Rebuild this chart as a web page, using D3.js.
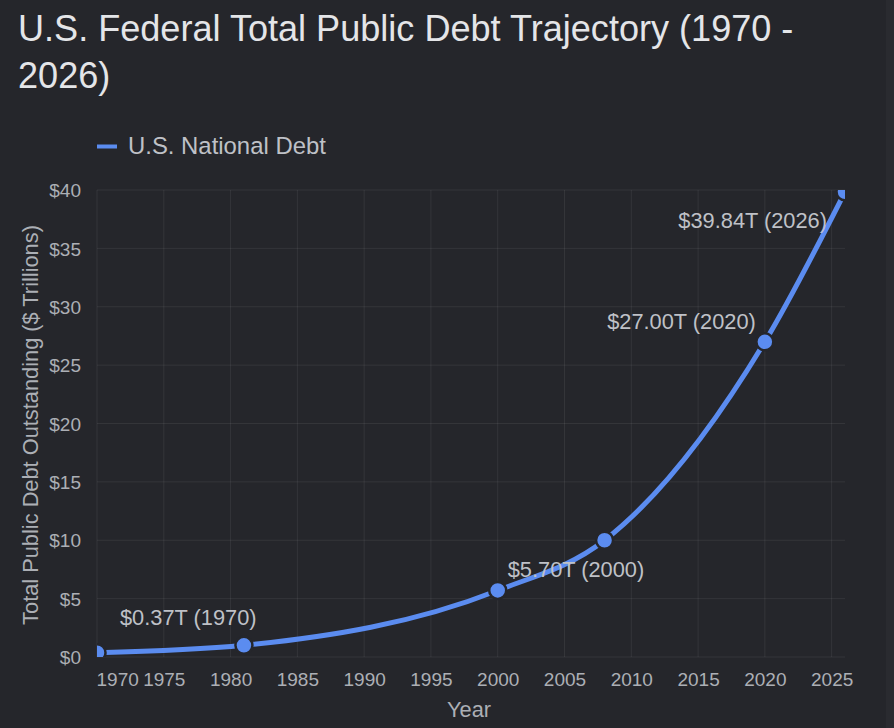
<!DOCTYPE html>
<html>
<head>
<meta charset="utf-8">
<script src="https://cdn.jsdelivr.net/npm/d3@7"></script>
<style>
  html, body { margin: 0; padding: 0; background: #25262b; }
  svg { display: block; font-family: "Liberation Sans", Arial, Helvetica, sans-serif; }
</style>
</head>
<body>
<svg id="myChart" width="894" height="728"></svg>
<script>
// data
const years = [1970, 1981, 2000, 2008, 2020, 2026];
const debt = [0.37, 1.0, 5.70, 10.0, 27.00, 39.84];
const labelledYears = [1970, 2000, 2020, 2026];
const xTicks = [1970, 1975, 1980, 1985, 1990, 1995, 2000, 2005, 2010, 2015, 2020, 2025];
const yTicks = [0, 5, 10, 15, 20, 25, 30, 35, 40];

const svg = d3.select("#myChart"),
    width = +svg.attr("width"),
    height = +svg.attr("height");

const margin = {top: 190, right: 49, bottom: 71, left: 97};
const lineColor = "#5b8cf0";
const bg = "#25262b";

svg.append("rect").attr("width", width).attr("height", height).attr("fill", bg);
svg.append("rect").attr("x", 886).attr("width", width - 886).attr("height", height).attr("fill", "#2a2b30");

const x = d3.scaleLinear().domain([1970, 2026]).range([margin.left, width - margin.right]);
const y = d3.scaleLinear().domain([0, 40]).range([height - margin.bottom, margin.top]);

// title
svg.append("text").attr("x", 18).attr("y", 41)
    .attr("fill", "#e4e5e8").attr("font-size", 36.1)
    .text("U.S. Federal Total Public Debt Trajectory (1970 -");
svg.append("text").attr("x", 18).attr("y", 88)
    .attr("fill", "#e4e5e8").attr("font-size", 36.1)
    .text("2026)");

// legend
svg.append("line").attr("x1", 97).attr("x2", 117).attr("y1", 146.5).attr("y2", 146.5)
    .attr("stroke", lineColor).attr("stroke-width", 4);
svg.append("text").attr("x", 128).attr("y", 154)
    .attr("fill", "#bfc1c7").attr("font-size", 23.9)
    .text("U.S. National Debt");

// grid
const grid = svg.append("g").attr("stroke", "#ffffff").attr("stroke-opacity", 0.07);
grid.selectAll(".gx").data(xTicks).enter().append("line")
    .attr("x1", d => x(d)).attr("x2", d => x(d))
    .attr("y1", y(40)).attr("y2", y(0));
grid.selectAll(".gy").data(yTicks).enter().append("line")
    .attr("x1", x(1970)).attr("x2", x(2026))
    .attr("y1", d => y(d)).attr("y2", d => y(d));

// axes
const xAxis = svg.append("g")
    .attr("transform", "translate(0," + (height - margin.bottom) + ")")
    .call(d3.axisBottom(x).tickValues(xTicks).tickFormat(d3.format("d")).tickSize(0).tickPadding(16));
const yAxis = svg.append("g")
    .attr("transform", "translate(" + margin.left + ",0)")
    .call(d3.axisLeft(y).tickValues(yTicks).tickFormat(d => "$" + d).tickSize(0).tickPadding(16));

[xAxis, yAxis].forEach(a => {
    a.select(".domain").remove();
    a.selectAll("text").attr("fill", "#acafb5").attr("font-size", 19)
        .attr("font-family", "Liberation Sans, Arial, sans-serif");
});
yAxis.selectAll("text").attr("dy", "0.35em");
xAxis.selectAll("text").filter(d => d === 1970).attr("text-anchor", "start").attr("x", -1);

// axis titles
svg.append("text").attr("x", 469).attr("y", 717).attr("text-anchor", "middle")
    .attr("fill", "#acafb5").attr("font-size", 21.8).text("Year");
svg.append("text").attr("transform", "translate(38,425) rotate(-90)").attr("text-anchor", "middle")
    .attr("fill", "#acafb5").attr("font-size", 21.8).text("Total Public Debt Outstanding ($ Trillions)");

// series
const points = years.map((yr, i) => ({year: yr, value: debt[i]}));

svg.append("clipPath").attr("id", "clip-area")
    .append("rect")
    .attr("x", x(1970)).attr("y", y(40))
    .attr("width", x(2026) - x(1970)).attr("height", y(0) - y(40));

const plot = svg.append("g").attr("clip-path", "url(#clip-area)");

const line = d3.line()
    .x(d => x(d.year))
    .y(d => y(d.value))
    .curve(d3.curveMonotoneX);

plot.append("path").datum(points)
    .attr("fill", "none").attr("stroke", lineColor).attr("stroke-width", 5)
    .attr("d", line);

plot.selectAll(".dot").data(points).enter().append("circle")
    .attr("cx", d => x(d.year)).attr("cy", d => y(d.value))
    .attr("r", 8.5)
    .attr("fill", lineColor).attr("stroke", bg).attr("stroke-width", 2.5);

// point labels
const labelPlace = {
    1970: {dx: 23, dy: -28, anchor: "start"},
    2000: {dx: 10, dy: -13, anchor: "start"},
    2020: {dx: -9, dy: -13, anchor: "end"},
    2026: {dx: -18, dy: 36, anchor: "end"}
};
svg.selectAll(".note").data(points.filter(d => labelledYears.includes(d.year))).enter().append("text")
    .attr("x", d => x(d.year) + labelPlace[d.year].dx)
    .attr("y", d => y(d.value) + labelPlace[d.year].dy)
    .attr("text-anchor", d => labelPlace[d.year].anchor)
    .attr("fill", "#bfc1c7").attr("font-size", 21.8)
    .text(d => "$" + d.value.toFixed(2) + "T (" + d.year + ")");
</script>
</body>
</html>
